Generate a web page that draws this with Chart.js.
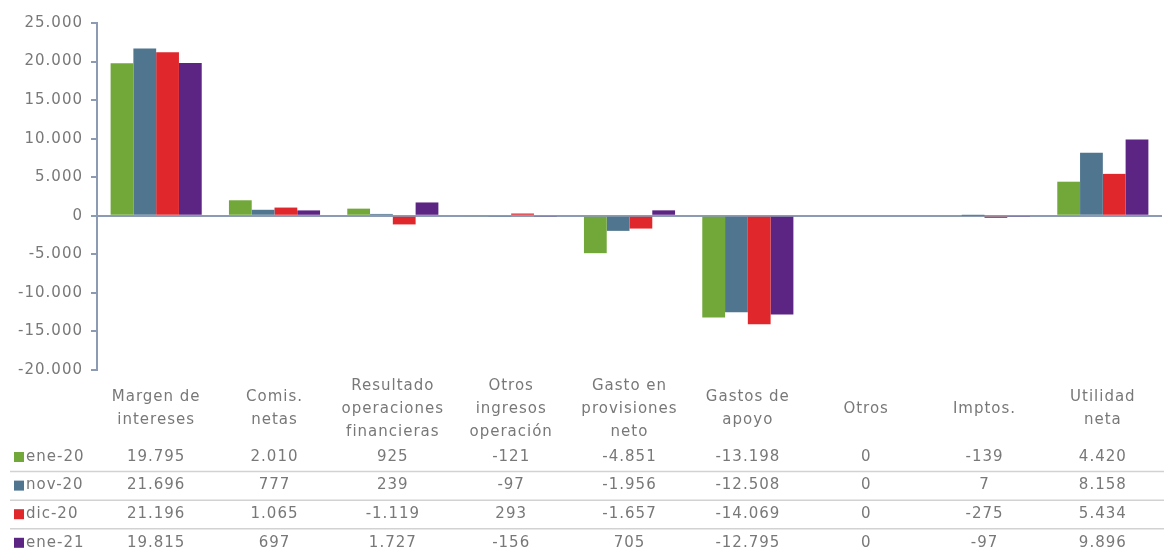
<!DOCTYPE html>
<html>
<head>
<meta charset="utf-8">
<script src="https://cdn.jsdelivr.net/npm/chart.js@4.4.1/dist/chart.umd.min.js"></script>
<style>
    html, body { margin: 0; padding: 0; background: #ffffff; }
    #wrap { width: 1164px; height: 550px; }
</style>
</head>
<body>
<div id="wrap"><canvas id="resultChart" width="1164" height="550"></canvas></div>
<script>
// Estado de resultados del sistema (miles de millones)
const categories = [
    ['Margen de', 'intereses'],
    ['Comis.', 'netas'],
    ['Resultado', 'operaciones', 'financieras'],
    ['Otros', 'ingresos', 'operación'],
    ['Gasto en', 'provisiones', 'neto'],
    ['Gastos de', 'apoyo'],
    ['Otros'],
    ['Imptos.'],
    ['Utilidad', 'neta']
];
const seriesNames = ['ene-20', 'nov-20', 'dic-20', 'ene-21'];
const ene20 = [19795, 2010, 925, -121, -4851, -13198, 0, -139, 4420];
const nov20 = [21696, 777, 239, -97, -1956, -12508, 0, 7, 8158];
const dic20 = [21196, 1065, -1119, 293, -1657, -14069, 0, -275, 5434];
const ene21 = [19815, 697, 1727, -156, 705, -12795, 0, -97, 9896];
const yTicks = [-20000, -15000, -10000, -5000, 0, 5000, 10000, 15000, 20000, 25000];

const colors = ['#72a83a', '#50758f', '#e0272c', '#5c2483'];
const axisColor = '#8c9bb3';
const textColor = '#787878';
const fontFamily = '"DejaVu Sans", Verdana, sans-serif';

// 12345 -> "12.345"
function fmt(v) {
    const s = Math.abs(v).toString().replace(/\B(?=(\d{3})+(?!\d))/g, '.');
    return (v < 0 ? '-' : '') + s;
}

// texto algo más espaciado, como en la tabla original
const wideText = {
    id: 'wideText',
    beforeDraw(chart) {
        chart.ctx.letterSpacing = '1px';
    }
};

// Tabla de datos bajo el eje, alineada con las categorías
const dataTable = {
    id: 'dataTable',
    afterDraw(chart) {
        const ctx = chart.ctx;
        const x = chart.scales.x;
        const rowTop = 443;
        const rowH = 28.6;
        const rows = [ene20, nov20, dic20, ene21];
        ctx.save();
        ctx.letterSpacing = '1px';
        ctx.font = '15px ' + fontFamily;
        ctx.textBaseline = 'middle';
        rows.forEach((vals, r) => {
            const cy = rowTop + r * rowH + 14;
            ctx.fillStyle = colors[r];
            ctx.fillRect(14, cy - 5, 10, 10);
            ctx.fillStyle = textColor;
            ctx.textAlign = 'left';
            ctx.fillText(seriesNames[r], 26, cy);
            ctx.textAlign = 'center';
            vals.forEach((v, i) => {
                ctx.fillText(fmt(v), x.getPixelForValue(i), cy);
            });
            if (r < rows.length - 1) {
                ctx.strokeStyle = '#d2d2d2';
                ctx.lineWidth = 1.5;
                ctx.beginPath();
                ctx.moveTo(10, rowTop + (r + 1) * rowH);
                ctx.lineTo(1164, rowTop + (r + 1) * rowH);
                ctx.stroke();
            }
        });
        ctx.restore();
    }
};

const datasets = [ene20, nov20, dic20, ene21].map((vals, i) => ({
    label: seriesNames[i],
    data: vals,
    backgroundColor: colors[i],
    borderWidth: 0,
    categoryPercentage: 0.77,
    barPercentage: 1.0
}));

new Chart(document.getElementById('resultChart'), {
    type: 'bar',
    data: { labels: categories, datasets: datasets },
    plugins: [wideText, dataTable],
    options: {
        responsive: false,
        animation: false,
        layout: { padding: { top: 23, left: 0, right: 2, bottom: 100 } },
        plugins: {
            legend: { display: false },
            tooltip: { enabled: false }
        },
        scales: {
            x: {
                grid: { display: false },
                border: { display: false },
                ticks: {
                    color: textColor,
                    font: { family: fontFamily, size: 15, lineHeight: '23px' },
                    padding: 8,
                    crossAlign: 'center',
                    maxRotation: 0,
                    autoSkip: false
                },
                afterFit(scale) { scale.height = 80; }
            },
            y: {
                min: -20000,
                max: 25000,
                z: 1,
                afterBuildTicks(scale) {
                    scale.ticks = yTicks.map(v => ({ value: v }));
                },
                grid: {
                    drawOnChartArea: true,
                    color: c => c.tick && c.tick.value === 0 ? axisColor : 'rgba(0,0,0,0)',
                    lineWidth: 2,
                    tickColor: axisColor,
                    tickLength: 6
                },
                border: { display: true, color: axisColor, width: 2 },
                ticks: {
                    color: textColor,
                    font: { family: fontFamily, size: 15 },
                    padding: 8,
                    callback: v => fmt(v)
                },
                afterFit(scale) { scale.width = 97; }
            }
        }
    }
});
</script>
</body>
</html>
